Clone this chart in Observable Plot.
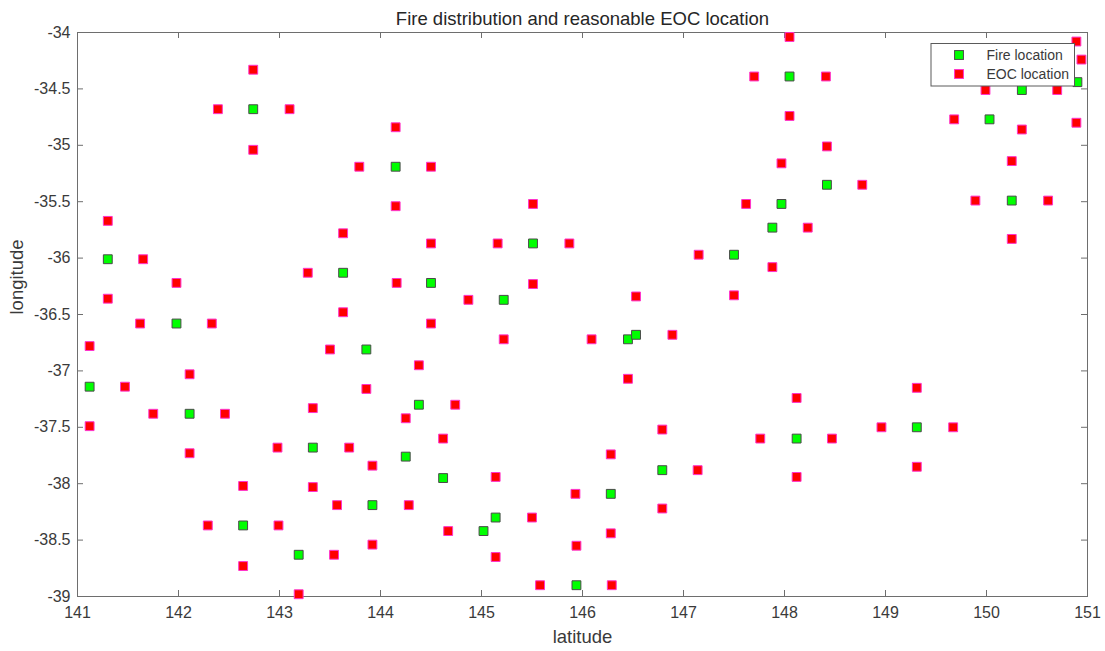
<!DOCTYPE html>
<html><head><meta charset="utf-8">
<script src="https://cdn.jsdelivr.net/npm/d3@7"></script>
<script src="https://cdn.jsdelivr.net/npm/@observablehq/plot@0.6"></script>
<style>
body{margin:0;background:#fff;}
svg{font-family:"Liberation Sans",Arial,sans-serif;}
</style>
</head><body><div id="chart"></div>
<script>
// ---- data ----
const fireX = [142.74,141.30,143.63,141.98,144.15,145.51,147.50,144.50,145.22,148.05,148.42,147.97,147.88,150.90,150.35,150.03,150.25,143.86,141.12,142.11,143.33,143.92,142.64,143.19,146.45,146.53,144.38,144.25,146.79,144.62,146.28,145.14,145.02,145.94,149.31,148.12];
const fireY = [-34.68,-36.01,-36.13,-36.58,-35.19,-35.87,-35.97,-36.22,-36.37,-34.39,-35.35,-35.52,-35.73,-34.44,-34.51,-34.77,-35.49,-36.81,-37.14,-37.38,-37.68,-38.19,-38.37,-38.63,-36.72,-36.68,-37.30,-37.76,-37.88,-37.95,-38.09,-38.30,-38.42,-38.90,-37.50,-37.60];
const eocX = [142.74,142.39,143.10,142.74,143.79,141.30,141.65,141.98,141.30,143.63,143.28,143.63,141.62,142.33,144.15,144.50,144.15,145.51,144.50,145.16,145.87,147.15,144.16,145.51,144.87,146.53,147.50,144.50,148.05,147.70,148.41,148.05,148.42,147.97,148.77,147.62,148.23,147.88,150.89,150.94,149.99,150.70,149.68,150.89,150.35,150.25,149.89,150.61,150.25,141.12,143.50,142.11,141.47,143.86,143.33,141.75,142.46,141.12,142.98,143.69,142.11,143.92,142.64,143.33,143.57,142.29,142.99,143.92,143.54,142.64,143.19,145.22,146.09,146.89,144.38,146.45,144.74,144.25,146.79,144.62,146.28,147.14,145.14,145.93,144.28,146.79,145.50,144.67,146.28,145.94,145.14,145.58,146.29,149.31,148.12,148.96,149.67,147.76,148.47,149.31,148.12];
const eocY = [-34.33,-34.68,-34.68,-35.04,-35.19,-35.67,-36.01,-36.22,-36.36,-35.78,-36.13,-36.48,-36.58,-36.58,-34.84,-35.19,-35.54,-35.52,-35.87,-35.87,-35.87,-35.97,-36.22,-36.23,-36.37,-36.34,-36.33,-36.58,-34.04,-34.39,-34.39,-34.74,-35.01,-35.16,-35.35,-35.52,-35.73,-36.08,-34.08,-34.24,-34.51,-34.51,-34.77,-34.80,-34.86,-35.14,-35.49,-35.49,-35.83,-36.78,-36.81,-37.03,-37.14,-37.16,-37.33,-37.38,-37.38,-37.49,-37.68,-37.68,-37.73,-37.84,-38.02,-38.03,-38.19,-38.37,-38.37,-38.54,-38.63,-38.73,-38.98,-36.72,-36.72,-36.68,-36.95,-37.07,-37.30,-37.42,-37.52,-37.60,-37.74,-37.88,-37.94,-38.09,-38.19,-38.22,-38.30,-38.42,-38.44,-38.55,-38.65,-38.90,-38.90,-37.15,-37.24,-37.50,-37.50,-37.60,-37.60,-37.85,-37.94];
const xTicks = [141,142,143,144,145,146,147,148,149,150,151];
const yTicks = [-39,-38.5,-38,-37.5,-37,-36.5,-36,-35.5,-35,-34.5,-34];
const titleText = "Fire distribution and reasonable EOC location";
const xLabel = "latitude";
const yLabel = "longitude";
const legendLabels = ["Fire location", "EOC location"];

// ---- build ----
const fire = fireX.map((x, i) => ({x, y: fireY[i]}));
const eoc = eocX.map((x, i) => ({x, y: eocY[i]}));

const W = 1105, H = 651, mL = 77, mR = 18, mT = 32, mB = 55;
const innerH = H - mT - mB;
const innerW = W - mL - mR;
const axisColor = "#6e6e6e";
const textColor = "#3a3a3a";
const fireFill = "#00ff00", fireStroke = "#4a4a4a";
const eocFill = "#ff0000", eocStroke = "#ff33cc";
const R = 5;

const chart = Plot.plot({
  width: W, height: H,
  marginLeft: mL, marginRight: mR, marginTop: mT, marginBottom: mB,
  style: {fontFamily: "'Liberation Sans', Arial, sans-serif", background: "white", overflow: "visible"},
  x: {domain: [141, 151]},
  y: {domain: [-39, -34]},
  marks: [
    Plot.frame({stroke: axisColor}),
    Plot.tickX(xTicks, {x: d => d, insetBottom: innerH - 6, stroke: axisColor}),
    Plot.tickX(xTicks, {x: d => d, insetTop: innerH - 6, stroke: axisColor}),
    Plot.tickY(yTicks, {y: d => d, insetRight: innerW - 6, stroke: axisColor}),
    Plot.tickY(yTicks, {y: d => d, insetLeft: innerW - 6, stroke: axisColor}),
    Plot.axisX(xTicks, {tickSize: 0, tickPadding: 10, tickFormat: d => String(d), fontSize: 16, fill: textColor, label: null}),
    Plot.axisY(yTicks, {tickSize: 0, tickPadding: 7, tickFormat: d => String(d), fontSize: 16, fill: textColor, label: null}),
    Plot.dot(fire, {x: "x", y: "y", symbol: "square", r: R, fill: fireFill, stroke: fireStroke, strokeWidth: 1}),
    Plot.dot(eoc, {x: "x", y: "y", symbol: "square", r: R, fill: eocFill, stroke: eocStroke, strokeWidth: 1}),
    Plot.text([titleText], {text: d => d, frameAnchor: "top", dy: -8, lineAnchor: "bottom", fontSize: 18.5, fill: "#262626"}),
    Plot.text([xLabel], {text: d => d, frameAnchor: "bottom", dy: 46, lineAnchor: "bottom", fontSize: 18.5, fill: textColor}),
    Plot.text([yLabel], {text: d => d, frameAnchor: "left", dx: -55, rotate: -90, lineAnchor: "bottom", fontSize: 18.5, fill: textColor})
  ]
});

// legend box (MATLAB style, inside the axes, top right)
const svg = d3.select(chart);
const lg = svg.append("g")
  .attr("font-family", "'Liberation Sans', Arial, sans-serif")
  .attr("text-anchor", "start");
const lx = W - mR - 156, ly = 43.5, lw = 143.5, lh = 42.5;
lg.append("rect").attr("x", lx).attr("y", ly).attr("width", lw).attr("height", lh)
  .attr("fill", "white").attr("stroke", "#5a5a5a").attr("stroke-width", 1);
const entries = [{fill: fireFill, stroke: fireStroke}, {fill: eocFill, stroke: eocStroke}];
entries.forEach((e, i) => {
  const cy = ly + 11.5 + i * 19;
  const s = R * Math.sqrt(Math.PI);
  lg.append("rect").attr("x", lx + 28 - s / 2).attr("y", cy - s / 2).attr("width", s).attr("height", s)
    .attr("fill", e.fill).attr("stroke", e.stroke).attr("stroke-width", 1);
  lg.append("text").attr("x", lx + 55.5).attr("y", cy).attr("dy", "0.35em")
    .attr("text-anchor", "start")
    .attr("font-size", 14).attr("fill", "#3a3a3a").text(legendLabels[i]);
});

document.getElementById("chart").appendChild(chart);
</script>
</body></html>
